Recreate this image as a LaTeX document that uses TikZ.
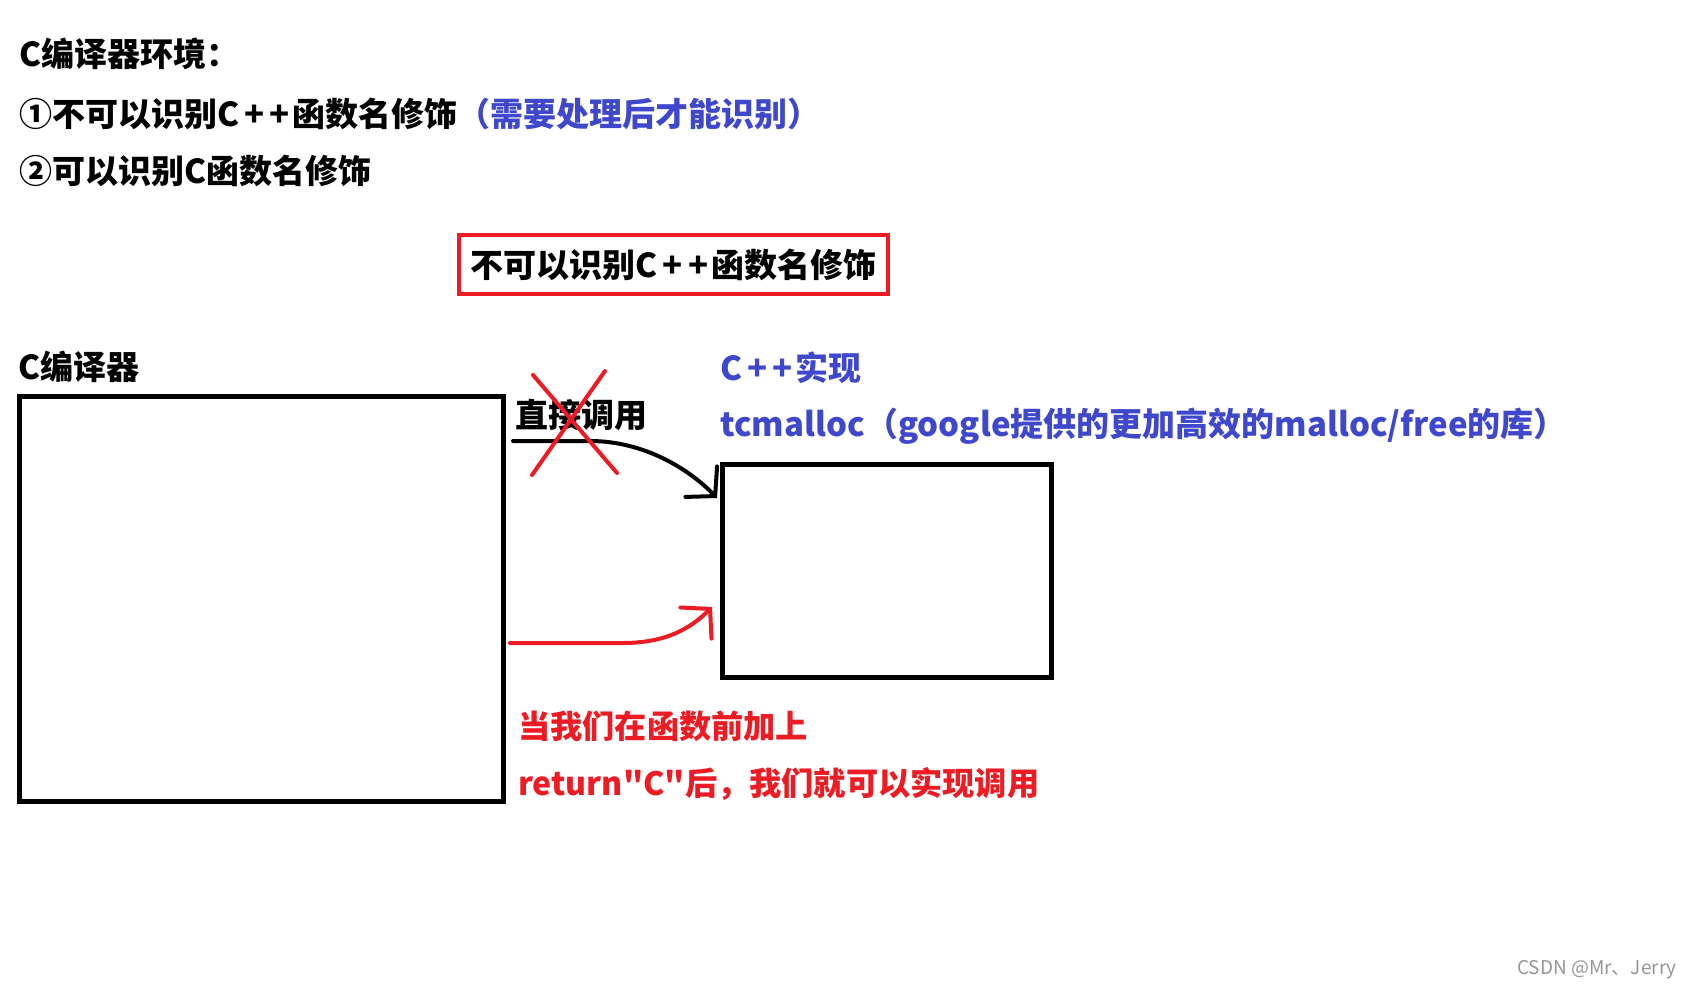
\documentclass[tikz,border=0pt]{standalone}
\usepackage{fontspec}
\newfontfamily\cjk{Noto Sans CJK SC}
\usetikzlibrary{arrows.meta}
\definecolor{penred}{RGB}{237,28,36}
\definecolor{penblue}{RGB}{63,72,204}
\definecolor{markgray}{RGB}{150,150,150}
\newcommand\cpp{C\kern5pt+\kern5pt+\kern3pt}
\tikzset{
  txt/.style={anchor=west, inner sep=0pt, font=\cjk\bfseries\fontsize{33}{40}\selectfont},
  redtxt/.style={txt, text=penred, font=\cjk\bfseries\fontsize{32.2}{40}\selectfont},
  frame/.style={draw, line width=5pt, inner sep=0pt},
  pen/.style={line width=4pt, line cap=round, line join=round},
  barb/.style={-{Straight Barb[length=20pt,width=44pt,line cap=round]}}
}
\begin{document}
\begin{tikzpicture}[x=1pt,y=-1pt]
\useasboundingbox (0,0) rectangle (1690,989);
\node[txt] (env) at (19,54) {C编译器环境：};
\node[txt] (rule1) at (19,114) {①不可以识别\cpp 函数名修饰\textcolor{penblue}{（需要处理后才能识别）}};
\node[txt] (rule2) at (19,171) {②可以识别C函数名修饰};
\node[txt, anchor=center, draw=penred, line width=4pt, minimum width=429pt, minimum height=59pt] (nomangle) at (673.5,264.5) {不可以识别\cpp 函数名修饰};
\node[txt] (cname) at (18,367) {C编译器};
\node[frame, minimum width=484pt, minimum height=405pt] (cbox) at (261.5,598.5) {};
\node[txt] (direct) at (515,415) {直接调用};
\node[txt, text=penblue] (cppimpl) at (720,368) {\cpp 实现};
\node[txt, text=penblue] (tcm) at (720,426) {tcmalloc（google提供的更加高效的malloc/free的库）};
\node[frame, minimum width=329pt, minimum height=213pt] (cppbox) at (886.5,570.5) {};
\node[redtxt] (note1) at (518,726) {当我们在函数前加上};
\node[redtxt] (note2) at (518,784) {return"C"后，我们就可以实现调用};
\node[anchor=west, inner sep=0pt, text=markgray, font=\cjk\fontsize{19}{22}\selectfont] (mark) at (1517,970) {CSDN @Mr、Jerry};
\coordinate (blackfrom) at (513,441);
\coordinate (blackto) at (717,498);
\coordinate (redfrom) at (510,643);
\coordinate (redto) at (712,607);
\draw[pen, barb] (blackfrom) -- (590,441) .. controls (645,441) and (690,470) .. (blackto);
\draw[pen, barb, penred] (redfrom) -- (623,643) .. controls (665,643) and (690,629) .. (redto);
\draw[pen, penred] (533,375) -- (617,473) (605,371) -- (532,475);
\end{tikzpicture}
\end{document}
